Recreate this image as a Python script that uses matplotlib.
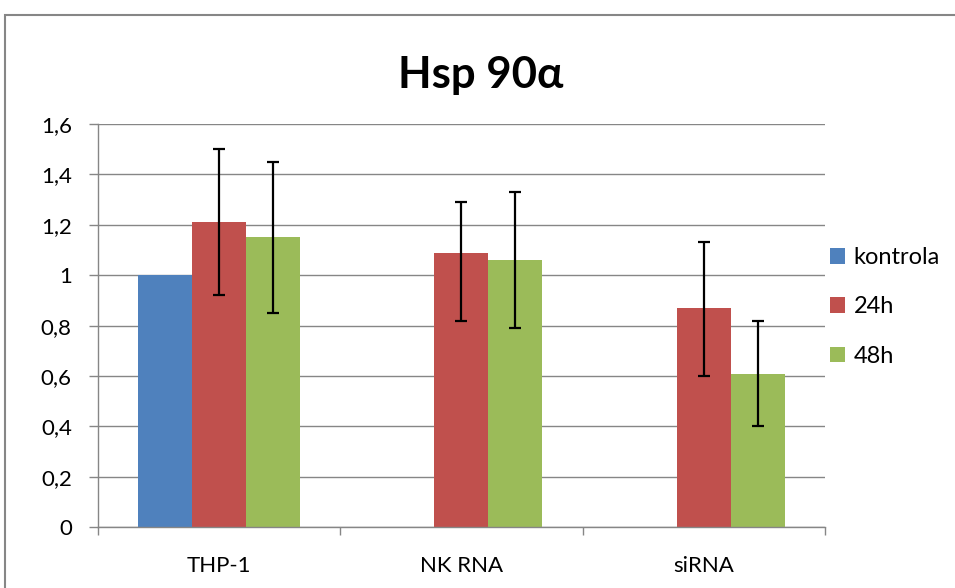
import matplotlib
matplotlib.use("Agg")
import matplotlib.pyplot as plt
import numpy as np
from matplotlib.patches import Rectangle

categories = ["THP-1", "NK RNA", "siRNA"]
series_names = ["kontrola", "24h", "48h"]
kontrola = [1.0, np.nan, np.nan]
h24 = [1.21, 1.09, 0.87]
h48 = [1.15, 1.06, 0.61]
h24_err_lo = [0.29, 0.27, 0.27]
h24_err_hi = [0.29, 0.20, 0.26]
h48_err_lo = [0.30, 0.27, 0.21]
h48_err_hi = [0.30, 0.27, 0.21]
yticks = [0, 0.2, 0.4, 0.6, 0.8, 1.0, 1.2, 1.4, 1.6]
ytick_labels = ["0", "0,2", "0,4", "0,6", "0,8", "1", "1,2", "1,4", "1,6"]
title = "Hsp 90α"

colors = ["#4F81BD", "#C0504D", "#9BBB59"]
font = ["Lato", "DejaVu Sans"]
plt.rcParams["font.family"] = font

fig = plt.figure(figsize=(9.55, 5.88), dpi=100)
fig.patches.append(Rectangle((5/955, -0.1), 1.2, (588-15)/588 + 0.1, transform=fig.transFigure,
                             fill=False, edgecolor="#868686", lw=1.5, zorder=0))
ax = fig.add_axes([97.5/955, (588-527.3)/588, 727.5/955, (527.3-124)/588])

x = np.arange(len(categories))
w = 0.223
ekw = dict(ecolor="black", elinewidth=1.6, capsize=4.5, capthick=1.6)
ax.bar(x - w, kontrola, w, color=colors[0], label=series_names[0], zorder=2)
ax.bar(x, h24, w, color=colors[1], label=series_names[1], zorder=2,
       yerr=[h24_err_lo, h24_err_hi], error_kw=ekw)
ax.bar(x + w, h48, w, color=colors[2], label=series_names[2], zorder=2,
       yerr=[h48_err_lo, h48_err_hi], error_kw=ekw)

ax.set_xlim(-0.5, len(categories) - 0.5)
ax.set_ylim(0, 1.6)
ax.set_yticks(yticks)
ax.set_yticklabels(ytick_labels)
ax.set_xticks(x)
ax.set_xticklabels(categories)
ax.set_xticks(np.arange(-0.5, len(categories)), minor=True)
ax.tick_params(axis="x", which="major", length=0, pad=21, labelsize=16)
ax.tick_params(axis="x", which="minor", length=6, color="#868686", width=1)
ax.tick_params(axis="y", length=6.5, color="#868686", width=1, labelsize=16, pad=12)
ax.yaxis.grid(True, color="#868686", lw=1)
ax.set_axisbelow(True)
for s in ["top", "right"]:
    ax.spines[s].set_visible(False)
for s in ["left", "bottom"]:
    ax.spines[s].set_color("#868686")
    ax.spines[s].set_linewidth(1)

fig.text(481/955, 1 - 75/588, title, ha="center", va="center", fontsize=31.5, fontweight="bold")

leg = fig.legend(loc="center left", bbox_to_anchor=(821/955, 1 - 307/588), frameon=False,
                 fontsize=17, handlelength=0.63, handleheight=0.63, handletextpad=0.35,
                 labelspacing=1.2, borderaxespad=0)

fig.savefig("out.png", dpi=100)
